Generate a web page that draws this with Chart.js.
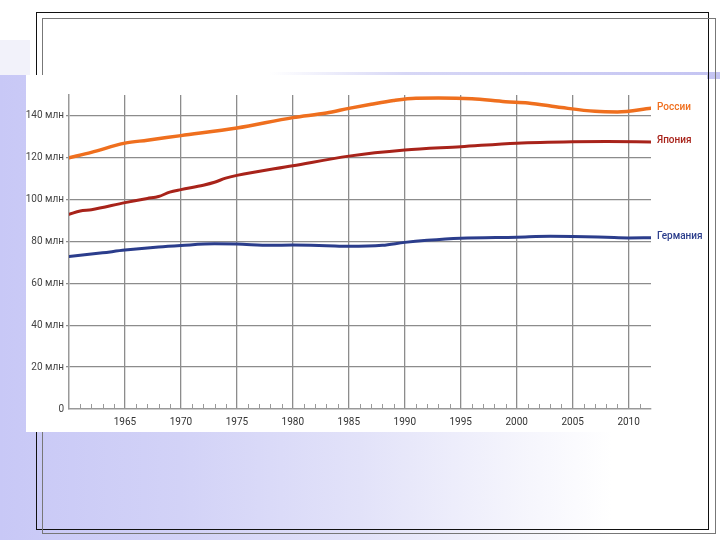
<!DOCTYPE html>
<html>
<head>
<meta charset="utf-8">
<script src="https://cdn.jsdelivr.net/npm/chart.js@4.4.1/dist/chart.umd.min.js"></script>
<style>
  html,body{margin:0;padding:0;}
  body{width:720px;height:540px;position:relative;overflow:hidden;
    background:linear-gradient(to right,#c8c8f6 0%,#d2d2f7 25%,#e2e2f9 50%,#f3f3fc 70%,#ffffff 85%,#ffffff 100%);}
  #topWhite{position:absolute;left:30px;top:0;width:690px;height:75px;background:#fff;}
  #topLeft{position:absolute;left:0;top:0;width:30px;height:40px;background:#fff;}
  #topLeft2{position:absolute;left:0;top:40px;width:30px;height:35px;background:#f2f2fa;}
  #stripe{position:absolute;left:270px;top:72px;width:450px;height:7px;
    background:linear-gradient(to right,rgba(198,198,242,0) 0%,rgba(198,198,242,0.7) 30%,#c4c4f2 100%);}
  .fb{position:absolute;border:1.5px solid #111;}
  .fg{position:absolute;border:1px solid #777;}
  #chartBox{position:absolute;left:26px;top:75px;width:681px;height:357px;background:#fff;}
  canvas{display:block;}
</style>
</head>
<body>
<div id="topWhite"></div>
<div id="topLeft"></div>
<div id="topLeft2"></div>
<div id="stripe"></div>
<div class="fb" style="left:36px;top:12px;width:671px;height:516px;"></div>
<div class="fg" style="left:42px;top:18px;width:672px;height:514px;"></div>
<div id="chartBox"><canvas id="c" width="681" height="357"></canvas></div>
<script>
// ---- data (millions) ----
const russiaYears = [1960,1962,1965,1967,1970,1975,1980,1983,1985,1987,1989,1991,1993,1996,1999,2001,2004,2007,2009,2012];
const russiaPop   = [120.0,122.6,127.0,128.4,130.6,134.2,139.2,141.4,143.6,145.6,147.4,148.5,148.6,148.2,146.8,146.2,144.0,142.2,141.9,143.7];

const japanYears = [1960,1961,1962,1965,1967,1968,1969,1970,1972,1973,1974,1975,1980,1985,1990,1995,2000,2005,2008,2012];
const japanPop   = [93.0,94.6,95.2,98.6,100.6,101.5,103.6,104.8,106.9,108.3,110.3,111.6,116.2,120.8,123.7,125.3,127.0,127.7,127.8,127.6];

const germanyYears = [1960,1963,1965,1968,1970,1973,1975,1978,1980,1983,1985,1988,1990,1992,1995,2000,2003,2005,2008,2010,2012];
const germanyPop   = [72.8,74.6,75.9,77.4,78.1,78.9,78.8,78.2,78.3,78.0,77.7,78.2,79.6,80.6,81.6,82.1,82.5,82.4,82.0,81.7,81.8];

const seriesNames = ['России','Япония','Германия'];
const xTickYears = [1965,1970,1975,1980,1985,1990,1995,2000,2005,2010];
const yTickValues = [0,20,40,60,80,100,120,140];
const yUnit = 'млн';

const colors = ['#ef6f1e','#a8231a','#2b3d8c'];

function pts(xs, ys){ return xs.map((x,i)=>({x:x,y:ys[i]})); }

const FONT = "Roboto,'Liberation Sans',Arial,sans-serif";

const endLabels = {
  id:'endLabels',
  afterDatasetsDraw(chart){
    const ctx = chart.ctx, ys = chart.scales.y, xs = chart.scales.x;
    ctx.save();
    ctx.font = "500 10px " + FONT;
    ctx.textBaseline = 'middle';
    ctx.textAlign = 'left';
    chart.data.datasets.forEach((ds,i)=>{
      const last = ds.data[ds.data.length-1];
      ctx.fillStyle = colors[i];
      ctx.fillText(ds.label, xs.getPixelForValue(last.x) + 6, ys.getPixelForValue(last.y) - 1);
    });
    ctx.restore();
  }
};

const minorTicks = {
  id:'minorTicks',
  beforeDatasetsDraw(chart){
    const ctx = chart.ctx, xs = chart.scales.x, ys = chart.scales.y;
    const y0 = ys.getPixelForValue(0);
    ctx.save();
    ctx.strokeStyle = '#999';
    ctx.lineWidth = 1;
    for(let yr = Math.ceil(xs.min)+1; yr < xs.max; yr++){
      if(yr % 5 === 0) continue;
      const px = Math.round(xs.getPixelForValue(yr)) + 0.5;
      ctx.beginPath(); ctx.moveTo(px, y0); ctx.lineTo(px, y0-5); ctx.stroke();
    }
    ctx.restore();
  }
};

new Chart(document.getElementById('c'), {
  type:'line',
  data:{
    datasets:[
      {label:seriesNames[0], data:pts(russiaYears,russiaPop), borderColor:colors[0], borderWidth:3.5},
      {label:seriesNames[1], data:pts(japanYears,japanPop), borderColor:colors[1], borderWidth:3},
      {label:seriesNames[2], data:pts(germanyYears,germanyPop), borderColor:colors[2], borderWidth:3}
    ]
  },
  options:{
    responsive:false,
    devicePixelRatio:1,
    animation:false,
    elements:{point:{radius:0}, line:{tension:0.35, cubicInterpolationMode:'monotone', borderCapStyle:'round', borderJoinStyle:'round'}},
    layout:{padding:{top:20,right:56,left:0,bottom:0}},
    plugins:{legend:{display:false}, tooltip:{enabled:false}},
    scales:{
      x:{
        type:'linear', min:1960, max:2012,
        afterBuildTicks(s){ s.ticks = xTickYears.map(v=>({value:v})); },
        afterFit(s){ s.height = 23; },
        grid:{color:'#8c8c8c', lineWidth:1.3, drawTicks:false},
        border:{display:true, color:'#999', width:1.5},
        ticks:{padding:7, color:'#333', font:{family:FONT, size:10}, maxRotation:0, autoSkip:false,
               callback:(v)=>String(v)}
      },
      y:{
        min:0, max:150,
        afterBuildTicks(s){ s.ticks = yTickValues.map(v=>({value:v})); },
        afterFit(s){ s.width = 43; },
        grid:{color:(c)=> c.tick && c.tick.value===0 ? 'rgba(0,0,0,0)' : '#8c8c8c', lineWidth:1.3, drawTicks:true, tickLength:3},
        border:{display:true, color:'#999', width:1.5},
        ticks:{padding:2, color:'#444', font:{family:FONT, size:10},
               callback:(v)=> v===0 ? '0' : v + ' ' + yUnit}
      }
    }
  },
  plugins:[minorTicks, endLabels]
});
</script>
</body>
</html>
